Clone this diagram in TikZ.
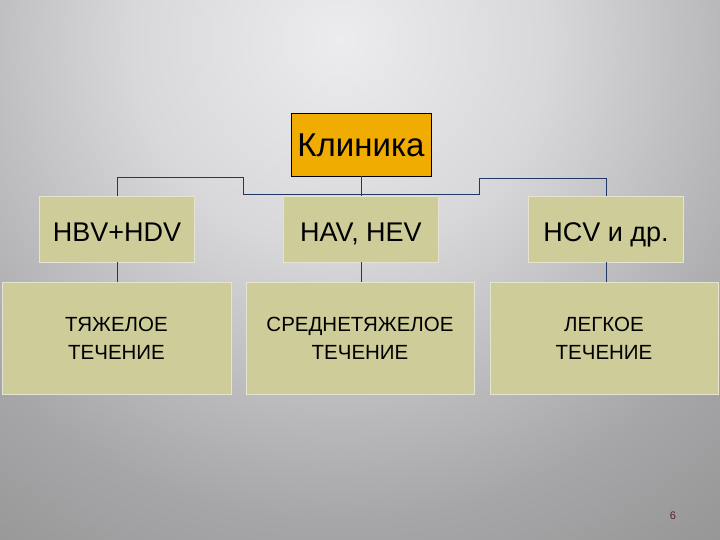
\documentclass[tikz,border=0pt]{standalone}
\usepackage{fontspec}
\setmainfont{Liberation Sans}
\definecolor{bgA}{HTML}{ECECEE}
\definecolor{bgB}{HTML}{D8D8DA}
\definecolor{bgC}{HTML}{A6A6A8}
\definecolor{bgD}{HTML}{888888}
\definecolor{bgE}{HTML}{6C6C6C}
\definecolor{klfill}{HTML}{F0AC00}
\definecolor{boxfill}{HTML}{CECD99}
\definecolor{boxline}{HTML}{E4E4CF}
\definecolor{conncol}{HTML}{1F3864}
\definecolor{numcol}{HTML}{5A2030}
\pgfdeclareradialshading{bgshade}{\pgfpoint{0bp}{0bp}}{color(0bp)=(bgA); color(4.5bp)=(bgB); color(10.5bp)=(bgC); color(16.5bp)=(bgD); color(25bp)=(bgE); color(50bp)=(bgE)}
\begin{document}
\begin{tikzpicture}[x=1pt,y=-1pt,
  klbox/.style={draw=black,line width=0.8pt,fill=klfill,minimum width=140pt,minimum height=63pt,inner sep=0pt,text height=25pt,text depth=0pt,font=\fontsize{33}{36}\selectfont},
  midbox/.style={draw=boxline,line width=0.8pt,fill=boxfill,minimum width=155pt,minimum height=66pt,inner sep=0pt,text height=24pt,text depth=0pt,font=\fontsize{27}{30}\selectfont},
  lowbox/.style={draw=boxline,line width=0.8pt,fill=boxfill,minimum width=228pt,minimum height=112pt,inner sep=0pt,align=center,font=\fontsize{20.5}{28}\selectfont},
  conn/.style={draw=conncol,line width=0.9pt}]
\useasboundingbox (0,0) rectangle (720,540);
\begin{scope}
\clip (0,0) rectangle (720,540);
\shade[shading=bgshade] (340,40) circle (1150);
\end{scope}
\node[klbox] (kl) at (361,144.5) {Клиника};
\node[midbox] (hbv) at (117,229) {HBV+HDV};
\node[midbox] (hav) at (361,229) {HAV, HEV};
\node[midbox] (hcv) at (606,229) {HCV и др.};
\node[lowbox,minimum width=229pt] (la) at (116.5,338) {ТЯЖЕЛОЕ\\ТЕЧЕНИЕ};
\node[lowbox] (lb) at (360,338) {СРЕДНЕТЯЖЕЛОЕ\\ТЕЧЕНИЕ};
\node[lowbox] (lc) at (604,338) {ЛЕГКОЕ\\ТЕЧЕНИЕ};
\coordinate (jl) at (243,194);
\coordinate (jr) at (479,194);
\draw[conn] (hbv.north) -- ++(0,-18) -| (jl) -- (jr) -- ++(0,-16) -| (hcv.north);
\draw[conn] (kl.south) -- (hav.north);
\draw[conn] (hbv.south) -- (hbv.south |- la.north);
\draw[conn] (hav.south) -- (hav.south |- lb.north);
\draw[conn] (hcv.south) -- (hcv.south |- lc.north);
\node[text=numcol,font=\fontsize{11}{12}\selectfont] (num) at (673,516) {6};
\end{tikzpicture}
\end{document}
